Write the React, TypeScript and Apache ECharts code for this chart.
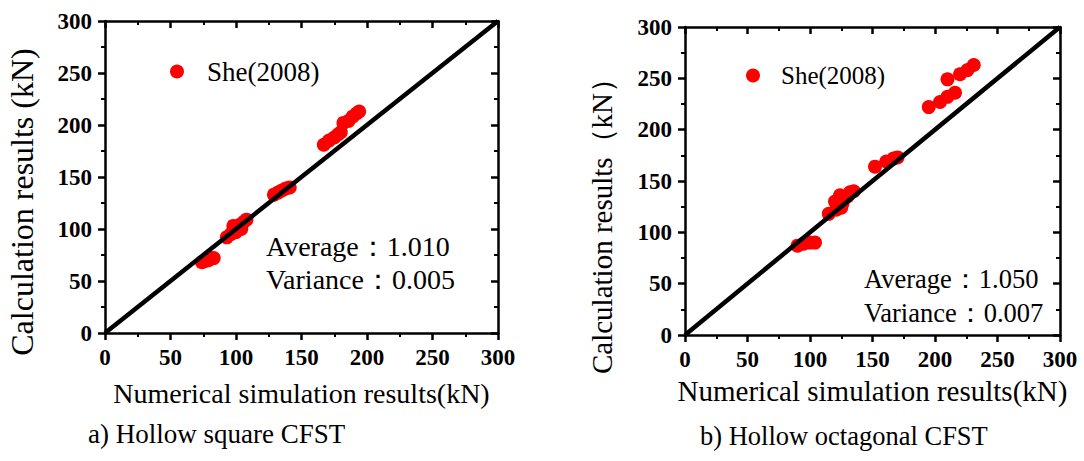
import React, { useEffect, useRef } from "react";
import * as echarts from "echarts";

const legendName = "She(2008)";
const squareData: number[][] = [
  [74, 68], [76, 69], [79, 70], [81, 72], [83, 72],
  [93, 92], [96, 95], [99, 98], [101, 101], [103, 104], [100, 97], [104, 100], [106, 107], [108, 109], [98, 103],
  [129, 133], [132, 135], [135, 137], [138, 139], [141, 140],
  [167, 181], [171, 185], [175, 188], [178, 191], [180, 193], [182, 202], [186, 204], [189, 208], [192, 211], [194, 213],
];
const octagonData: number[][] = [
  [90, 87], [95, 89], [100, 90], [104, 90],
  [115, 118], [120, 130], [121, 122], [125, 124], [126, 128], [124, 136], [130, 135], [132, 139], [135, 140],
  [152, 164], [161, 169], [167, 172], [170, 173],
  [195, 222], [204, 227], [210, 232], [216, 236], [210, 249], [220, 254], [226, 258], [231, 263],
];
const refLine: number[][] = [[0, 0], [300, 300]];
const statsA = ["Average：1.010", "Variance：0.005"];
const statsB = ["Average：1.050", "Variance：0.007"];
const captions = ["a) Hollow square CFST", "b) Hollow octagonal CFST"];
const xName = "Numerical simulation results(kN)";
const yNames = ["Calculation results (kN)", "Calculation results（kN）"];

const FONT = "Liberation Serif";

function valAxis(gridIndex: number, pos: string, main: boolean, name: string, nameGap: number, nameSize: number, isY: boolean) {
  return {
    type: "value",
    gridIndex,
    position: pos,
    min: 0,
    max: 300,
    interval: 50,
    name: main ? name : "",
    nameLocation: "middle",
    nameGap,
    nameTextStyle: { fontFamily: FONT, fontSize: nameSize, color: "#000" },
    axisLine: { show: true, onZero: false, lineStyle: { color: "#000", width: 2.5 } },
    axisTick: { show: true, inside: !main, length: 7, lineStyle: { color: "#000", width: 2.5 } },
    minorTick: { show: true, splitNumber: 2, length: 4, lineStyle: { color: "#000", width: 2 } },
    axisLabel: {
      show: main,
      fontFamily: FONT,
      fontWeight: "bold",
      fontSize: 23,
      color: "#000",
      margin: isY ? 13 : 13,
    },
    splitLine: { show: false },
  };
}

export default function App() {
  const ref = useRef<HTMLDivElement>(null);
  useEffect(() => {
    if (!ref.current) return;
    const chart = echarts.init(ref.current, null, { renderer: "svg" });
    const grids = [
      { left: 105, top: 21, width: 393, height: 312 },
      { left: 685, top: 27, width: 375, height: 308 },
    ];
    const textEl = (t: string, x: number, y: number, size: number) => ({
      type: "text",
      left: x,
      top: y,
      style: { text: t, fontFamily: FONT, fontSize: size, fill: "#000" },
    });
    const vText = (t: string, x: number, y: number, size: number) => ({
      type: "text",
      x,
      y,
      rotation: Math.PI / 2,
      style: {
        text: t, fontFamily: FONT, fontSize: size, fill: "#000",
        align: "center", verticalAlign: "middle",
      },
    });
    chart.setOption({
      animation: false,
      backgroundColor: "#fff",
      grid: grids.map((g) => ({ ...g, containLabel: false })),
      xAxis: [
        valAxis(0, "bottom", true, xName, 46, 28, false),
        valAxis(0, "top", false, "", 0, 28, false),
        valAxis(1, "bottom", true, xName, 41, 29, false),
        valAxis(1, "top", false, "", 0, 28, false),
      ],
      yAxis: [
        valAxis(0, "left", true, "", 0, 28, true),
        valAxis(0, "right", false, "", 0, 28, true),
        valAxis(1, "left", true, "", 0, 28, true),
        valAxis(1, "right", false, "", 0, 28, true),
      ],
      legend: [
        {
          left: 165, top: 53, itemWidth: 14, itemHeight: 14, itemGap: 10,
          data: [legendName],
          textStyle: { fontFamily: FONT, fontSize: 27, color: "#000", padding: [0, 0, 0, 18] },
          selectedMode: false,
        },
        {
          left: 741, top: 58, itemWidth: 14, itemHeight: 14, itemGap: 10,
          data: [legendName],
          textStyle: { fontFamily: FONT, fontSize: 25, color: "#000", padding: [0, 0, 0, 16] },
          selectedMode: false,
        },
      ],
      series: [
        {
          type: "line", xAxisIndex: 0, yAxisIndex: 0, data: refLine, showSymbol: false,
          lineStyle: { color: "#000", width: 4.5 }, z: 3, silent: true,
        },
        {
          type: "line", xAxisIndex: 2, yAxisIndex: 2, data: refLine, showSymbol: false,
          lineStyle: { color: "#000", width: 4.5 }, z: 3, silent: true,
        },
        {
          name: legendName, type: "scatter", xAxisIndex: 0, yAxisIndex: 0, data: squareData,
          symbolSize: 14, itemStyle: { color: "#ff0000", opacity: 1 }, z: 2,
        },
        {
          name: legendName, type: "scatter", xAxisIndex: 2, yAxisIndex: 2, data: octagonData,
          symbolSize: 14, itemStyle: { color: "#ff0000", opacity: 1 }, z: 2,
        },
      ],
      graphic: [
        vText(yNames[0], 22, 202, 32),
        vText(yNames[1], 602, 219, 29),
        textEl(statsA[0], 266, 232, 28),
        textEl(statsA[1], 266, 265, 28),
        textEl(statsB[0], 864, 265, 26.5),
        textEl(statsB[1], 864, 299, 26.5),
        textEl(captions[0], 88, 420, 27),
        textEl(captions[1], 700, 422, 26.5),
      ],
    });
    return () => chart.dispose();
  }, []);
  return (
    <div
      ref={ref}
      style={{ position: "fixed", left: 0, top: 0, width: 1084, height: 461, background: "#fff" }}
    />
  );
}
